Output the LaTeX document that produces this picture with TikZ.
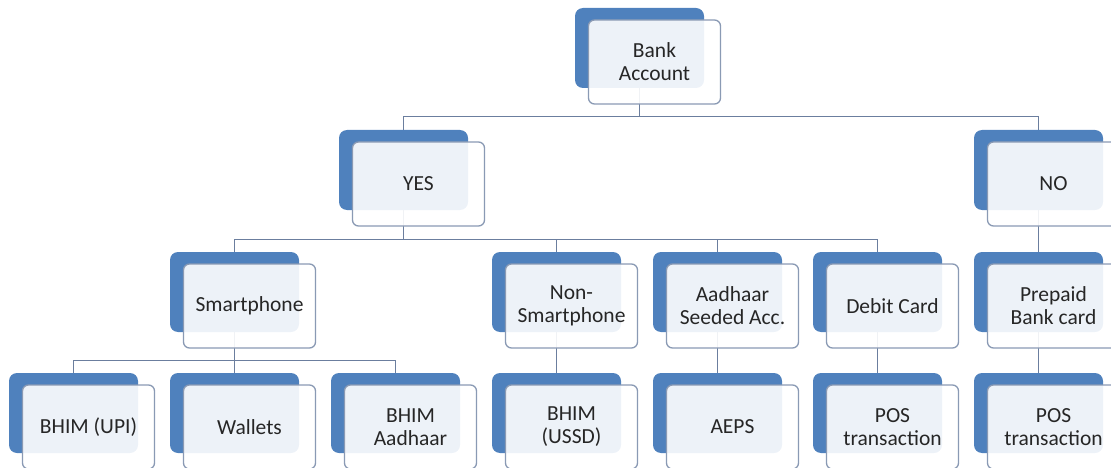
\documentclass[tikz,border=0pt]{standalone}
\usepackage{fontspec}
\setmainfont{Carlito}
\pgfdeclarelayer{background}
\pgfsetlayers{background,main}
\definecolor{backblue}{HTML}{4F81BD}
\definecolor{frontline}{HTML}{8A9AB4}
\definecolor{conn}{HTML}{6B7E9E}
\definecolor{txt}{HTML}{262626}
\tikzset{
  backbox/.style={rectangle, rounded corners=8pt, fill=backblue, minimum width=129pt, minimum height=80pt, inner sep=0pt},
  frontbox/.style={rectangle, rounded corners=6pt, draw=frontline, line width=1.3pt, fill=white, fill opacity=0.9, draw opacity=1, text opacity=1, minimum width=132pt, minimum height=84pt, inner sep=0pt, align=center, font=\fontsize{21.5}{23}\selectfont, text=txt},
  link/.style={draw=conn, line width=1pt}
}
\newcommand\pairnode[4]{%
  \node[backbox] (#1b) at (#2,#3) {};
  \node[frontbox] (#1) at (#2+15,#3-14) {#4};}
\begin{document}
\begin{tikzpicture}[x=1pt,y=1pt]
\useasboundingbox (0,0) rectangle (1111,-468);
% row 0
\pairnode{bank}{639.5}{-48}{Bank\\Account}
% row 1
\pairnode{yes}{403.5}{-170}{YES}
\pairnode{no}{1038.5}{-170}{NO}
% row 2
\pairnode{smart}{234.5}{-292}{Smartphone}
\pairnode{nonsmart}{556.5}{-292}{Non-\\Smartphone}
\pairnode{aadhaar}{717.5}{-292}{Aadhaar\\Seeded Acc.}
\pairnode{debit}{877.5}{-292}{Debit Card}
\pairnode{prepaid}{1038.5}{-292}{Prepaid\\Bank card}
% row 3
\pairnode{upi}{73.5}{-413}{BHIM (UPI)}
\pairnode{wallets}{234.5}{-413}{Wallets}
\pairnode{bhima}{395.5}{-413}{BHIM\\Aadhaar}
\pairnode{ussd}{556.5}{-413}{BHIM\\(USSD)}
\pairnode{aeps}{717.5}{-413}{AEPS}
\pairnode{pos}{877.5}{-413}{POS\\transaction}
\pairnode{postwo}{1038.5}{-413}{POS\\transaction}
\begin{pgfonlayer}{background}
  \draw[link] (bankb.south) -- ++(0,-28) -| (yesb.north);
  \draw[link] (bankb.south) -- ++(0,-28) -| (nob.north);
  \draw[link] (yesb.south) -- ++(0,-29) -| (smartb.north);
  \draw[link] (yesb.south) -- ++(0,-29) -| (nonsmartb.north);
  \draw[link] (yesb.south) -- ++(0,-29) -| (aadhaarb.north);
  \draw[link] (yesb.south) -- ++(0,-29) -| (debitb.north);
  \draw[link] (nob.south) -- (prepaidb.north);
  \draw[link] (smartb.south) -- ++(0,-28) -| (upib.north);
  \draw[link] (smartb.south) -- ++(0,-28) -| (walletsb.north);
  \draw[link] (smartb.south) -- ++(0,-28) -| (bhimab.north);
  \draw[link] (nonsmartb.south) -- (ussdb.north);
  \draw[link] (aadhaarb.south) -- (aepsb.north);
  \draw[link] (debitb.south) -- (posb.north);
  \draw[link] (prepaidb.south) -- (postwob.north);
\end{pgfonlayer}
\end{tikzpicture}
\end{document}
